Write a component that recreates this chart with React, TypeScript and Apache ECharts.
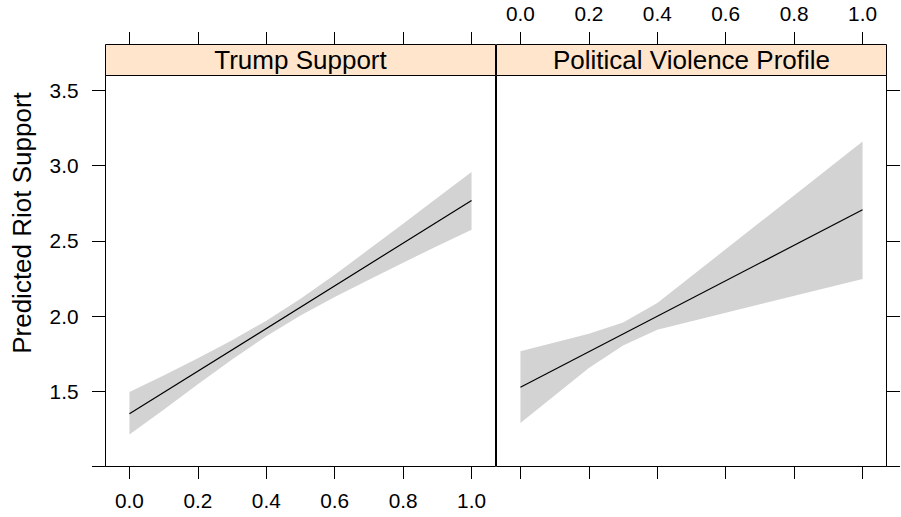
import React, { useEffect, useRef } from 'react';
import * as echarts from 'echarts';

const panelTitles = ['Trump Support', 'Political Violence Profile'];
const yTitle = 'Predicted Riot Support';
const xTicks = [0, 0.2, 0.4, 0.6, 0.8, 1.0];
const yTicks = [1.0, 1.5, 2.0, 2.5, 3.0, 3.5];
const yLabels = [1.5, 2.0, 2.5, 3.0, 3.5];

// Trump Support panel
const trumpX = [0, 0.1, 0.2, 0.3, 0.4, 0.5, 0.6, 0.7, 0.8, 0.9, 1.0];
const trumpLower = [1.212, 1.378, 1.547, 1.712, 1.866, 2.004, 2.127, 2.242, 2.355, 2.467, 2.574];
const trumpUpper = [1.496, 1.605, 1.720, 1.840, 1.970, 2.116, 2.275, 2.444, 2.615, 2.787, 2.958];
const trumpLineX = [0, 1];
const trumpLineY = [1.350, 2.769];

// Political Violence Profile panel
const pvX = [0, 0.2, 0.3, 0.4, 1.0];
const pvLower = [1.290, 1.655, 1.804, 1.910, 2.247];
const pvUpper = [1.766, 1.883, 1.958, 2.087, 3.161];
const pvLineX = [0, 1];
const pvLineY = [1.527, 2.707];

const FONT = '"Liberation Sans", Arial, Helvetica, sans-serif';
const STRIP_H = 31;
const GRID_TOP = 75.5;
const GRID_H = 391;
const PANEL_W = 390;
const LEFT0 = 105.5;
const LEFT1 = 496.5;

function bandSeries(xs: number[], lo: number[], hi: number[], xi: number, yi: number) {
  return {
    type: 'custom',
    coordinateSystem: 'cartesian2d',
    xAxisIndex: xi,
    yAxisIndex: yi,
    silent: true,
    data: xs.map((x, i) => [x, lo[i], hi[i]]),
    encode: { x: 0, y: [1, 2] },
    renderItem: (params: any, api: any) => {
      if (params.dataIndex !== 0) return null;
      const pts: number[][] = [];
      for (let i = 0; i < xs.length; i++) pts.push(api.coord([xs[i], hi[i]]));
      for (let i = xs.length - 1; i >= 0; i--) pts.push(api.coord([xs[i], lo[i]]));
      return { type: 'polygon', shape: { points: pts }, style: { fill: '#d3d3d3', stroke: 'none' } };
    },
    z: 1,
  };
}

function lineSeries(xs: number[], ys: number[], xi: number, yi: number) {
  return {
    type: 'line',
    xAxisIndex: xi,
    yAxisIndex: yi,
    data: xs.map((x, i) => [x, ys[i]]),
    symbol: 'none',
    silent: true,
    lineStyle: { color: '#000', width: 1.2 },
    z: 3,
  };
}

const tickStyle = { color: '#000', width: 1 };
const fmt = (v: number) => v.toFixed(1);

function xAxis(grid: number, position: string, labels: boolean, margin: number, offset = 0) {
  return {
    type: 'value',
    gridIndex: grid,
    position,
    offset,
    min: -0.07,
    max: 1.07,
    axisLine: { show: false, onZero: false },
    splitLine: { show: false },
    axisTick: { show: true, inside: false, length: 12.5, customValues: xTicks, lineStyle: tickStyle },
    axisLabel: {
      show: labels,
      customValues: xTicks,
      formatter: fmt,
      margin,
      fontSize: 20.8,
      fontFamily: FONT,
      color: '#000',
    },
  };
}

function yAxis(grid: number, position: string, labels: boolean) {
  return {
    type: 'value',
    gridIndex: grid,
    position,
    min: 1.0,
    max: 3.6,
    axisLine: { show: false, onZero: false },
    splitLine: { show: false },
    axisTick: { show: true, inside: false, length: 13.5, customValues: yTicks, lineStyle: tickStyle },
    axisLabel: {
      show: labels,
      customValues: yLabels,
      formatter: fmt,
      margin: 27,
      fontSize: 20.8,
      fontFamily: FONT,
      color: '#000',
    },
  };
}

export default function App() {
  const ref = useRef<HTMLDivElement>(null);
  useEffect(() => {
    if (!ref.current) return;
    const chart = echarts.init(ref.current, undefined, { renderer: 'svg' });
    const lefts = [LEFT0, LEFT1];
    const graphics: any[] = [];
    lefts.forEach((l, i) => {
      graphics.push({
        type: 'rect',
        z: 10,
        shape: { x: l, y: GRID_TOP - STRIP_H, width: PANEL_W, height: STRIP_H },
        style: { fill: '#ffe5cc', stroke: '#000', lineWidth: 1 },
      });
      graphics.push({
        type: 'text',
        z: 11,
        x: l + PANEL_W / 2,
        y: GRID_TOP - STRIP_H / 2,
        style: {
          text: panelTitles[i],
          fontSize: 26,
          fontFamily: FONT,
          fill: '#000',
          align: 'center',
          verticalAlign: 'middle',
          textAlign: 'center',
          textVerticalAlign: 'middle',
        },
      });
    });
    graphics.push({
      type: 'text',
      z: 11,
      x: 22,
      y: 223,
      rotation: Math.PI / 2,
      style: {
        text: yTitle,
        fontSize: 26,
        fontFamily: FONT,
        fill: '#000',
        align: 'center',
        verticalAlign: 'middle',
        textAlign: 'center',
        textVerticalAlign: 'middle',
      },
    });

    chart.setOption({
      animation: false,
      backgroundColor: '#fff',
      grid: lefts.map((l) => ({
        left: l,
        top: GRID_TOP,
        width: PANEL_W,
        height: GRID_H,
        show: true,
        borderColor: '#000',
        borderWidth: 1,
        backgroundColor: 'transparent',
        z: 5,
      })),
      xAxis: [
        xAxis(0, 'bottom', true, 23),
        xAxis(0, 'top', false, 21, STRIP_H),
        xAxis(1, 'bottom', false, 23),
        xAxis(1, 'top', true, 21, STRIP_H),
      ],
      yAxis: [yAxis(0, 'left', true), yAxis(1, 'right', false)],
      series: [
        bandSeries(trumpX, trumpLower, trumpUpper, 0, 0),
        lineSeries(trumpLineX, trumpLineY, 0, 0),
        bandSeries(pvX, pvLower, pvUpper, 3, 1),
        lineSeries(pvLineX, pvLineY, 3, 1),
      ],
      graphic: graphics,
    });
    return () => chart.dispose();
  }, []);
  return (
    <div
      ref={ref}
      style={{ position: 'fixed', left: 0, top: 0, width: 901, height: 517, background: '#fff' }}
    />
  );
}
